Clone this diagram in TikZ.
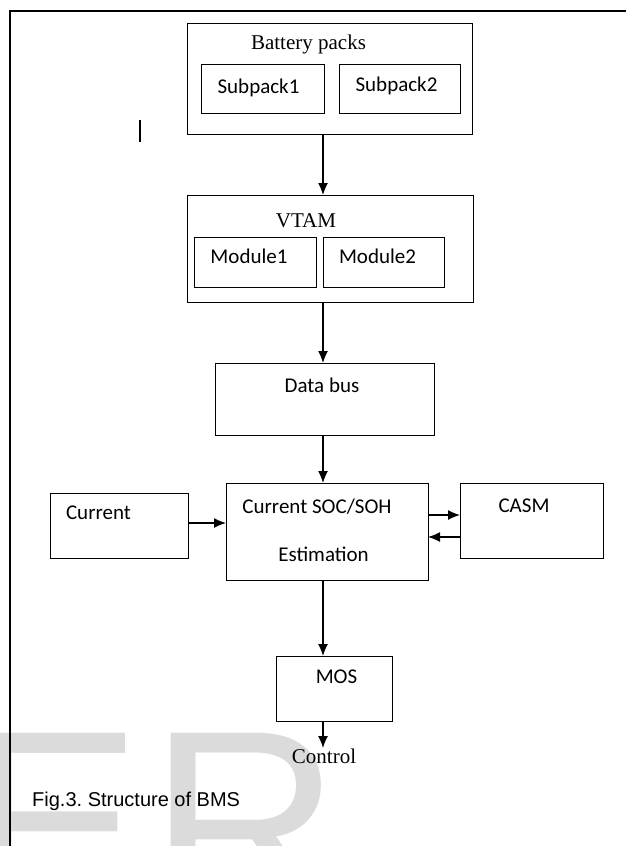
\documentclass[tikz,border=0pt]{standalone}
\usepackage{fontspec}
\setmainfont{Liberation Serif}
\newfontfamily\calib{Carlito}
\newfontfamily\arial{Liberation Sans}
\usetikzlibrary{arrows.meta}

\begin{document}
\begin{tikzpicture}[x=1pt, y=-1pt,
  box/.style={draw, line width=1pt, inner sep=0pt, outer sep=0pt},
  serlbl/.style={inner sep=0pt, anchor=base, font=\fontsize{21}{25}\selectfont},
  callbl/.style={inner sep=0pt, anchor=base, font=\calib\fontsize{21}{25}\selectfont},
  wmark/.style={inner sep=0pt, anchor=base west, text=black!14,
      font=\arial\fontsize{265}{265}\selectfont},
  arr/.style={line width=1.3pt, -{Latex[length=12pt,width=10pt]}}]

\useasboundingbox (0,0) rectangle (626,846);

% watermark
\begin{scope}
\clip (0,0) rectangle (626,846);
\node[wmark] at (-35,915) (wmE) {E};
\node[wmark] at (149,915) (wmR) {R};
\end{scope}

% frame
\draw[line width=2.5pt] (10,846) -- (10,11) -- (626,11);
\draw[line width=2pt] (140,120) -- (140,142);

% boxes
\node[box, minimum width=285, minimum height=111] at (329.5,78.5) (bat) {};
\node[box, minimum width=123, minimum height=49] at (262.5,88.5) (sub1) {};
\node[box, minimum width=121, minimum height=49] at (399.5,88.5) (sub2) {};

\node[box, minimum width=286, minimum height=107] at (330,248.5) (vtam) {};
\node[box, minimum width=122, minimum height=50] at (255,262) (mod1) {};
\node[box, minimum width=121, minimum height=50] at (383.5,262) (mod2) {};

\node[box, minimum width=219, minimum height=72] at (324.5,399) (bus) {};
\node[box, minimum width=138, minimum height=65] at (119,525.5) (cur) {};
\node[box, minimum width=202, minimum height=97] at (327,531.5) (soc) {};
\node[box, minimum width=143, minimum height=75] at (531.5,520.5) (casm) {};
\node[box, minimum width=116, minimum height=65] at (334,688.5) (mos) {};

% labels
\node[serlbl] at (308.5,49) (batT) {Battery packs};
\node[callbl] at (258.5,93) (sub1T) {Subpack1};
\node[callbl] at (396.5,91) (sub2T) {Subpack2};
\node[serlbl] at (306,227) (vtamT) {VTAM};
\node[callbl] at (249,263) (mod1T) {Module1};
\node[callbl] at (377.5,263) (mod2T) {Module2};
\node[callbl] at (322,392) (busT) {Data bus};
\node[callbl] at (98.5,519) (curT) {Current};
\node[callbl] at (317,513) (socT) {Current SOC/SOH};
\node[callbl] at (323.5,561) (estT) {Estimation};
\node[callbl] at (524,512) (casmT) {CASM};
\node[callbl] at (336.5,683) (mosT) {MOS};
\node[serlbl] at (324,763) (ctrl) {Control};
\node[inner sep=0pt, anchor=base west, font=\arial\fontsize{20}{24}\selectfont]
   at (32,806) (cap) {\frenchspacing Fig.3. Structure of BMS};

% connectors
\coordinate (spine) at (323,0);
\coordinate (lvA) at (0,515);
\coordinate (lvB) at (0,537);
\coordinate (lvC) at (0,523);
\coordinate (lvD) at (0,748);

\draw[arr] (bat.south -| spine) -- (vtam.north -| spine);
\draw[arr] (vtam.south -| spine) -- (bus.north -| spine);
\draw[arr] (bus.south -| spine) -- (soc.north -| spine);
\draw[arr] (cur.east |- lvC) -- (soc.west |- lvC);
\draw[arr] (soc.east |- lvA) -- (casm.west |- lvA);
\draw[arr] (casm.west |- lvB) -- (soc.east |- lvB);
\draw[arr] (soc.south -| spine) -- (mos.north -| spine);
\draw[arr] (mos.south -| spine) -- (spine |- lvD);

\end{tikzpicture}
\end{document}
